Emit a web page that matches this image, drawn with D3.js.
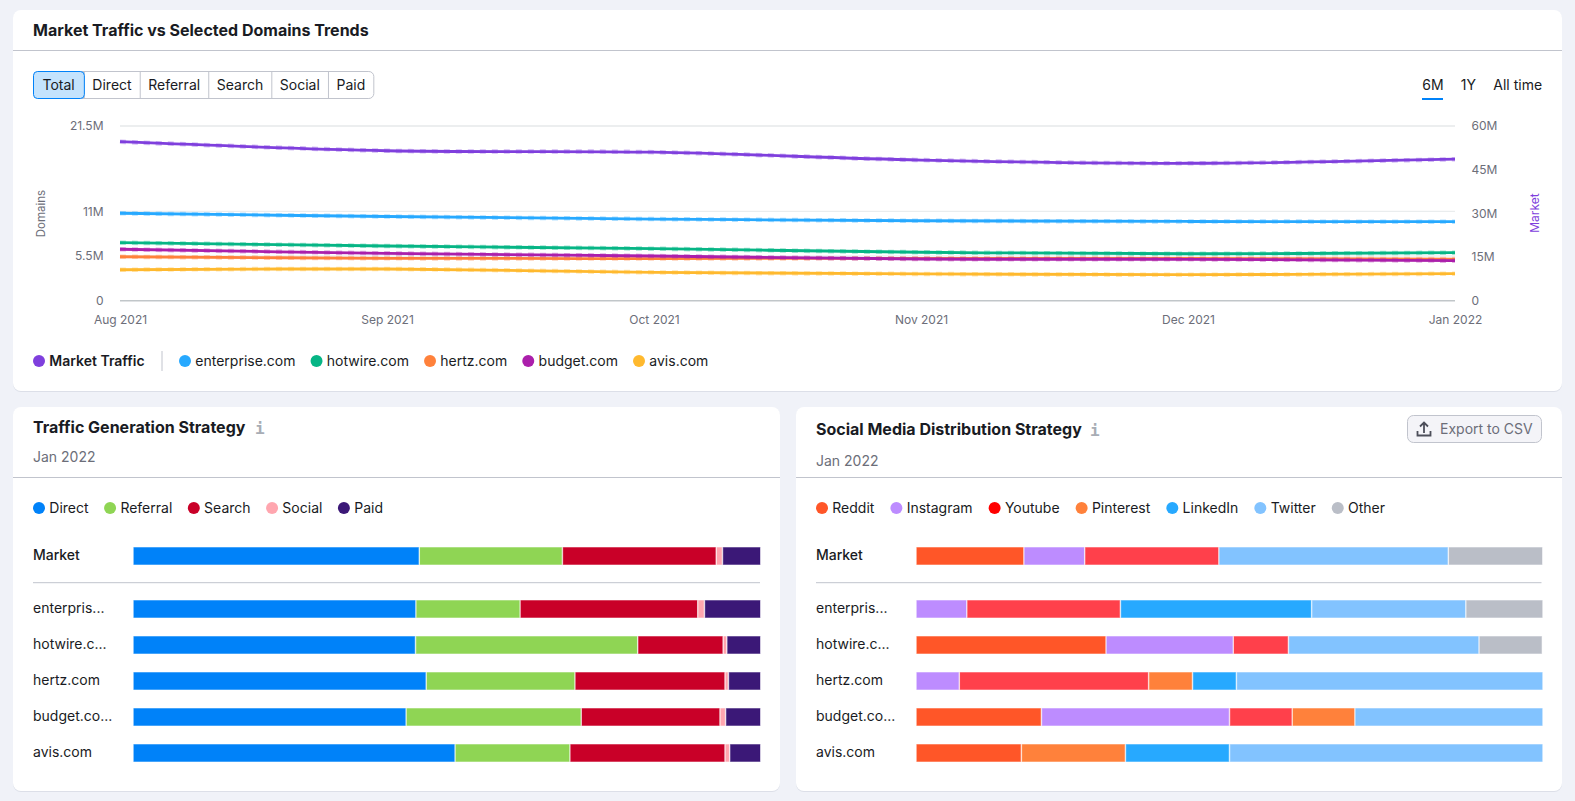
<!DOCTYPE html>
<html>
<head>
<meta charset="utf-8">
<script src="https://cdn.jsdelivr.net/npm/d3@7"></script>
<style>
html, body { margin: 0; padding: 0; background: #f0f2f8; }
svg { display: block; font-family: Inter, sans-serif; }
.axis .domain, .axis line { display: none; }
.axis text { font-family: Inter, sans-serif; font-size: 12px; fill: #6c6e79; }
</style>
</head>
<body>
<svg id="chart" width="1575" height="801"></svg>
<script>
// trend chart data
const months = ["Aug 2021", "Sep 2021", "Oct 2021", "Nov 2021", "Dec 2021", "Jan 2022"];
const marketTraffic = [54.6, 51.5, 51.0, 48.3, 47.2, 48.6];
const enterprise = [10.76, 10.36, 10.05, 9.84, 9.75, 9.72];
const hotwire = [7.14, 6.73, 6.40, 5.96, 5.78, 5.91];
const hertz = [5.41, 5.22, 5.19, 5.22, 5.20, 5.12];
const budget = [6.33, 5.83, 5.50, 5.13, 5.09, 4.92];
const avis = [3.81, 3.90, 3.49, 3.29, 3.20, 3.32];
const leftTicks = [0, 5.5, 11, 21.5];
const rightTicks = [0, 15, 30, 45, 60];
const trendNames = ["enterprise.com", "hotwire.com", "hertz.com", "budget.com", "avis.com"];
const trendColors = ["#27a9ff", "#06b585", "#ff813b", "#ab1fab", "#ffb92e"];
const marketColor = "#7f3fdd";

// buttons
const filterTabs = ["Total", "Direct", "Referral", "Search", "Social", "Paid"];

// bar rows
const rowNames = ["Market", "enterprise.com", "hotwire.com", "hertz.com", "budget.com", "avis.com"];
const rowLabels = ["Market", "enterpris...", "hotwire.c...", "hertz.com", "budget.co...", "avis.com"];

// traffic generation, percent
const trafficKeys = ["Direct", "Referral", "Search", "Social", "Paid"];
const trafficColors = ["#0082f9", "#8fd554", "#c90028", "#ffa6af", "#3b1877"];
const direct = [45.6, 45.06, 45.0, 46.7, 43.5, 51.3];
const referral = [22.8, 16.6, 35.4, 23.7, 27.9, 18.3];
const search = [24.5, 28.3, 13.6, 23.9, 22.1, 24.7];
const social = [1.0, 1.07, 0.6, 0.55, 0.9, 0.75];
const paid = [6.1, 8.97, 5.4, 5.15, 5.6, 4.95];

// social media, percent
const socialKeys = ["Reddit", "Instagram", "Youtube", "Pinterest", "LinkedIn", "Twitter", "Other"];
const socialColors = ["#ff5628", "#bd8cff", "#ff404b", "#ff813b", "#27a9ff", "#82c3ff", "#babec7"];
const socialLegendColors = ["#ff5628", "#bd8cff", "#ff0000", "#ff813b", "#27a9ff", "#82c3ff", "#babec7"];
const reddit = [17.2, 0, 30.3, 0, 20, 16.8];
const instagram = [9.7, 8.1, 20.3, 6.9, 30, 0];
const youtube = [21.4, 24.5, 8.8, 30.2, 10, 0];
const pinterest = [0, 0, 0, 7.0, 10, 16.6];
const linkedin = [0, 30.5, 0, 7.0, 0, 16.6];
const twitter = [36.6, 24.6, 30.4, 48.9, 30, 50];
const other = [15.07, 12.3, 10.1, 0, 0, 0];

const svg = d3.select("#chart");
const ink = "#191b23";
const muted = "#6c6e79";
const rule = "#c1c4cd";

function card(x, y, w, h) {
  svg.append("rect").attr("x", x).attr("y", y + 1).attr("width", w).attr("height", h)
    .attr("rx", 8).attr("fill", "#dcdfe8");
  svg.append("rect").attr("x", x).attr("y", y).attr("width", w).attr("height", h)
    .attr("rx", 8).attr("fill", "#fff");
}

function label(x, y, str, size, color, weight) {
  return svg.append("text").attr("x", x).attr("y", y).attr("dy", "0.35em")
    .attr("font-size", size).attr("fill", color).attr("font-weight", weight || 400).text(str);
}

function hline(x1, x2, y, color) {
  svg.append("line").attr("x1", x1).attr("x2", x2).attr("y1", y).attr("y2", y)
    .attr("stroke", color).attr("stroke-width", 1);
}

// legend items are laid out from the text widths
function legend(x, y, names, colors, boldFirst, gap) {
  let cx = x;
  names.forEach((n, i) => {
    svg.append("circle").attr("cx", cx + 6).attr("cy", y).attr("r", 6).attr("fill", colors[i]);
    const t = label(cx + 16.3, y, n, 14, ink, boldFirst && i == 0 ? 600 : 400);
    cx += 16.3 + t.node().getComputedTextLength() + gap;
  });
}

card(13, 10, 1549, 381);
card(13, 407, 767, 384);
card(796, 407, 766, 384);

// top card header
label(33, 30.5, "Market Traffic vs Selected Domains Trends", 16, ink, 700);
hline(13, 1562, 50.5, rule);

// filter tabs, text goes in first so the widths can be measured
const tabBack = svg.append("g");
const tabText = svg.append("g");
let tabX = 33.5;
const tabEdges = [];
filterTabs.forEach((t, i) => {
  const pad = i == 0 ? 9 : 8;
  const txt = tabText.append("text").attr("x", tabX + pad).attr("y", 85).attr("dy", "0.35em")
    .attr("font-size", 14).attr("fill", ink).text(t);
  const w = txt.node().getComputedTextLength() + 16.6 + (i == 0 ? 2 : 0);
  tabEdges.push([tabX, w]);
  tabX += w;
});
tabBack.append("rect").attr("x", 33.5).attr("y", 71.5).attr("width", tabX - 33.5).attr("height", 27)
  .attr("rx", 5).attr("fill", "#fff").attr("stroke", rule);
tabEdges.slice(1).forEach(e => {
  tabBack.append("line").attr("x1", e[0]).attr("x2", e[0]).attr("y1", 71.5).attr("y2", 98.5).attr("stroke", rule);
});
tabBack.append("rect").attr("x", tabEdges[0][0]).attr("y", 71.5)
  .attr("width", tabEdges[0][1]).attr("height", 27).attr("rx", 4)
  .attr("fill", "#c4e3fd").attr("stroke", "#0082f9");

// time range tabs
label(1422.3, 85, "6M", 14, ink);
label(1460.7, 85, "1Y", 14, ink);
label(1493.3, 85, "All time", 14, ink);
svg.append("rect").attr("x", 1422).attr("y", 98).attr("width", 21).attr("height", 2).attr("fill", "#0082f9");

// trend plot
const x = d3.scalePoint().domain(months).range([120, 1455]);
const yLeft = d3.scaleLinear().domain([0, 21.5]).range([300.7, 126]);
const yRight = d3.scaleLinear().domain([0, 60]).range([300.7, 126]);

svg.append("g").selectAll("line").data(leftTicks).join("line")
  .attr("x1", 120).attr("x2", 1455)
  .attr("y1", d => yLeft(d)).attr("y2", d => yLeft(d))
  .attr("stroke", d => d == 0 ? "#c1c6c9" : "#e6e9ea")
  .attr("stroke-width", d => d == 0 || d == 21.5 ? 1.5 : 1);

svg.append("g").attr("class", "axis").attr("transform", "translate(120,0)")
  .call(d3.axisLeft(yLeft).tickValues(leftTicks).tickSize(0).tickPadding(16.5)
    .tickFormat(d => d == 0 ? "0" : d + "M"));
svg.append("g").attr("class", "axis").attr("transform", "translate(1455,0)")
  .call(d3.axisRight(yRight).tickValues(rightTicks).tickSize(0).tickPadding(16.5)
    .tickFormat(d => d == 0 ? "0" : d + "M"));
svg.append("g").attr("class", "axis").attr("transform", "translate(0,300.7)")
  .call(d3.axisBottom(x).tickSize(0).tickPadding(15));

svg.append("text").attr("transform", "translate(40.5,213.5) rotate(-90)").attr("text-anchor", "middle")
  .attr("dy", "0.35em").attr("font-size", 11.5).attr("fill", muted).text("Domains");
svg.append("text").attr("transform", "translate(1535,213) rotate(-90)").attr("text-anchor", "middle")
  .attr("dy", "0.35em").attr("font-size", 12).attr("fill", marketColor).text("Market");

function trend(values, scale, color) {
  const line = d3.line().x((d, i) => x(months[i])).y(d => scale(d)).curve(d3.curveCatmullRom.alpha(0.5));
  svg.append("path").attr("d", line(values)).attr("fill", "none").attr("stroke", color)
    .attr("stroke-width", 4.5).attr("stroke-opacity", 0.35).attr("stroke-dasharray", "6 6");
  svg.append("path").attr("d", line(values)).attr("fill", "none").attr("stroke", color)
    .attr("stroke-width", 2.8);
}

const trendSeries = [enterprise, hotwire, hertz, budget, avis];
trend(marketTraffic, yRight, marketColor);
trendSeries.forEach((s, i) => trend(s, yLeft, trendColors[i]));

// trend legend
legend(33, 361, ["Market Traffic"], [marketColor], true, 15);
svg.append("line").attr("x1", 162).attr("x2", 162).attr("y1", 351).attr("y2", 371).attr("stroke", rule);
legend(179, 361, trendNames, trendColors, false, 15);

// stacked bars
function stackPanel(originX, endX, keys, colors, seriesArrays) {
  const rows = rowNames.map((n, r) => {
    const row = { name: n };
    keys.forEach((k, j) => { row[k] = seriesArrays[j][r]; });
    return row;
  });
  const stacked = d3.stack().keys(keys)(rows);
  const xBar = d3.scaleLinear().domain([0, 100]).range([originX, endX]);
  const yBand = d3.scaleBand().domain(rowNames).range([547, 745]).paddingInner(0.5).paddingOuter(0);
  const rowY = n => yBand(n) + (n == "Market" ? 0 : 17);

  const g = svg.append("g");
  g.selectAll("g").data(stacked).join("g").attr("fill", (d, i) => colors[i]).attr("stroke", (d, i) => colors[i])
    .selectAll("rect").data(d => d.filter(s => s[1] - s[0] > 0)).join("rect")
    .attr("x", d => xBar(d[0]) + 0.5)
    .attr("y", d => rowY(d.data.name) + 0.5)
    .attr("width", d => xBar(d[1]) - xBar(d[0]) - 1.5)
    .attr("height", yBand.bandwidth() - 1)
    .attr("stroke-opacity", 0.45);
}

function rowText(x0) {
  rowLabels.forEach((t, i) => {
    label(x0, i == 0 ? 555 : 572.3 + 36 * i, t, 14, ink, i == 0 ? 500 : 400);
  });
}

// left panel
label(33, 427.2, "Traffic Generation Strategy", 16, ink, 700);
label(255, 428, "i", 16, "#a8adb5", 700).style("font-family", "DejaVu Sans Mono");
label(33, 457, "Jan 2022", 14, muted);
hline(13, 780, 477.5, rule);
legend(33, 508, trafficKeys, trafficColors, false, 15.5);
rowText(33);
hline(33, 760, 582.7, rule);
stackPanel(133.3, 761, trafficKeys, trafficColors, [direct, referral, search, social, paid]);

// right panel
label(816, 429.2, "Social Media Distribution Strategy", 16, ink, 700);
label(1090, 430, "i", 16, "#a8adb5", 700).style("font-family", "DejaVu Sans Mono");
label(816, 461, "Jan 2022", 14, muted);
hline(796, 1562, 477.5, rule);
legend(816, 508, socialKeys, socialLegendColors, false, 16);
rowText(816);
hline(816, 1541.5, 582.7, rule);
stackPanel(916.3, 1543.2, socialKeys, socialColors, [reddit, instagram, youtube, pinterest, linkedin, twitter, other]);

// export button
svg.append("rect").attr("x", 1407.5).attr("y", 415.5).attr("width", 134).attr("height", 27).attr("rx", 6)
  .attr("fill", "#f4f4f8").attr("stroke", rule);
svg.append("path").attr("d", "M1424 423v10M1420 426.5l4-4 4 4M1417.5 431v4.5h13V431")
  .attr("fill", "none").attr("stroke", "#4d4f5a").attr("stroke-width", 1.8);
label(1440, 429, "Export to CSV", 14, muted);
</script>
</body>
</html>
